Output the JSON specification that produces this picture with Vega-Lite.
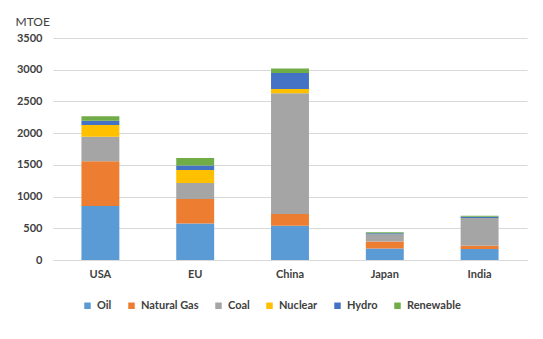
{
  "$schema": "https://vega.github.io/schema/vega-lite/v6.json",
  "width": 474,
  "height": 222,
  "autosize": {"type": "none"},
  "padding": {"left": 53, "top": 38, "right": 16, "bottom": 79},
  "background": "white",
  "data": {
    "values": [
      {"region": "USA", "source": "Oil", "mtoe": 850},
      {"region": "USA", "source": "Natural Gas", "mtoe": 705},
      {"region": "USA", "source": "Coal", "mtoe": 390},
      {"region": "USA", "source": "Nuclear", "mtoe": 185},
      {"region": "USA", "source": "Hydro", "mtoe": 65},
      {"region": "USA", "source": "Renewable", "mtoe": 70},
      {"region": "EU", "source": "Oil", "mtoe": 575},
      {"region": "EU", "source": "Natural Gas", "mtoe": 385},
      {"region": "EU", "source": "Coal", "mtoe": 255},
      {"region": "EU", "source": "Nuclear", "mtoe": 205},
      {"region": "EU", "source": "Hydro", "mtoe": 70},
      {"region": "EU", "source": "Renewable", "mtoe": 120},
      {"region": "China", "source": "Oil", "mtoe": 540},
      {"region": "China", "source": "Natural Gas", "mtoe": 185},
      {"region": "China", "source": "Coal", "mtoe": 1905},
      {"region": "China", "source": "Nuclear", "mtoe": 65},
      {"region": "China", "source": "Hydro", "mtoe": 255},
      {"region": "China", "source": "Renewable", "mtoe": 70},
      {"region": "Japan", "source": "Oil", "mtoe": 180},
      {"region": "Japan", "source": "Natural Gas", "mtoe": 110},
      {"region": "Japan", "source": "Coal", "mtoe": 108},
      {"region": "Japan", "source": "Nuclear", "mtoe": 5},
      {"region": "Japan", "source": "Hydro", "mtoe": 20},
      {"region": "Japan", "source": "Renewable", "mtoe": 15},
      {"region": "India", "source": "Oil", "mtoe": 175},
      {"region": "India", "source": "Natural Gas", "mtoe": 50},
      {"region": "India", "source": "Coal", "mtoe": 420},
      {"region": "India", "source": "Nuclear", "mtoe": 8},
      {"region": "India", "source": "Hydro", "mtoe": 28},
      {"region": "India", "source": "Renewable", "mtoe": 15}
    ]
  },
  "transform": [
    {
      "calculate": "indexof(['Oil', 'Natural Gas', 'Coal', 'Nuclear', 'Hydro', 'Renewable'], datum.source)",
      "as": "stackOrder"
    }
  ],
  "mark": {"type": "bar"},
  "encoding": {
    "x": {
      "field": "region",
      "type": "nominal",
      "sort": ["USA", "EU", "China", "Japan", "India"],
      "scale": {"paddingInner": 0.6, "paddingOuter": 0.3},
      "axis": {
        "title": null,
        "labelAngle": 0,
        "ticks": false,
        "domainColor": "#D9D9D9",
        "labelPadding": 8,
        "labelFont": "Lato",
        "labelFontWeight": "bold",
        "labelFontSize": 11,
        "labelColor": "#404040"
      }
    },
    "y": {
      "field": "mtoe",
      "type": "quantitative",
      "stack": "zero",
      "scale": {"domain": [0, 3500], "nice": false},
      "axis": {
        "title": "MTOE",
        "titleAngle": 0,
        "titleAlign": "left",
        "titleBaseline": "bottom",
        "titleX": -38,
        "titleY": -10,
        "titleFont": "Lato",
        "titleFontSize": 12,
        "titleFontWeight": "normal",
        "titleColor": "#404040",
        "values": [0, 500, 1000, 1500, 2000, 2500, 3000, 3500],
        "format": "d",
        "domain": false,
        "ticks": false,
        "grid": true,
        "gridColor": "#D9D9D9",
        "labelPadding": 11,
        "labelFont": "Lato",
        "labelFontWeight": "bold",
        "labelFontSize": 11,
        "labelColor": "#404040"
      }
    },
    "color": {
      "field": "source",
      "type": "nominal",
      "sort": ["Oil", "Natural Gas", "Coal", "Nuclear", "Hydro", "Renewable"],
      "scale": {
        "domain": ["Oil", "Natural Gas", "Coal", "Nuclear", "Hydro", "Renewable"],
        "range": ["#5B9BD5", "#ED7D31", "#A5A5A5", "#FFC000", "#4472C4", "#70AD47"]
      },
      "legend": {
        "title": null,
        "orient": "none",
        "direction": "horizontal",
        "legendX": 29,
        "legendY": 262,
        "symbolType": "square",
        "symbolSize": 42,
        "symbolStrokeWidth": 0,
        "columnPadding": 14,
        "labelFont": "Lato",
        "labelFontWeight": "bold",
        "labelFontSize": 11,
        "labelColor": "#404040",
        "labelOffset": 4
      }
    },
    "order": {"field": "stackOrder", "type": "quantitative", "sort": "ascending"}
  },
  "config": {"view": {"stroke": null}}
}
